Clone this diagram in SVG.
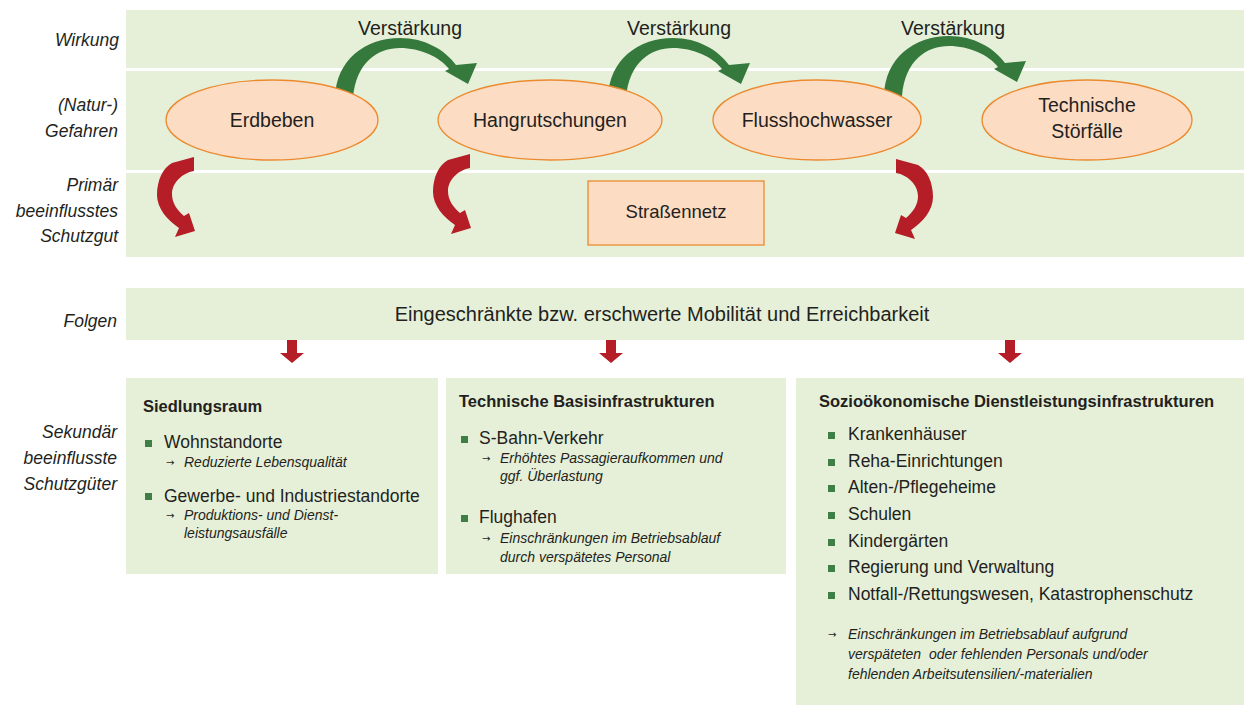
<svg xmlns="http://www.w3.org/2000/svg" width="1244" height="705" viewBox="0 0 1244 705">
<style>
text{font-family:"Liberation Sans",Arial,sans-serif;fill:#231f20}
.band{fill:#e6f0d8}
.lbl{font-size:17.5px;font-style:italic;text-anchor:end}
.ell{fill:#fddcc4;stroke:#ec8a2f;stroke-width:1.3}
.big{font-size:19.5px;text-anchor:middle}
.h{font-size:16.5px;font-weight:bold}
.b{font-size:17.5px}
.s{font-size:14px;font-style:italic}
.ar{font-family:"DejaVu Sans",sans-serif;font-size:10px}
.sq{fill:#3d7f45}
.ga{fill:#357a3c}
.ra{fill:#b51d27}
</style>
<rect width="1244" height="705" fill="#ffffff"/>
<g id="bands">
<rect class="band" x="126" y="10" width="1118" height="58"/>
<rect class="band" x="126" y="71" width="1118" height="99"/>
<rect class="band" x="126" y="173" width="1118" height="84"/>
<rect class="band" x="126" y="288" width="1118" height="52"/>
</g>
<g id="labels">
<text class="lbl" x="119" y="46">Wirkung</text>
<text class="lbl" x="118" y="111">(Natur-)</text>
<text class="lbl" x="118" y="137">Gefahren</text>
<text class="lbl" x="118" y="191">Primär</text>
<text class="lbl" x="118" y="217">beeinflusstes</text>
<text class="lbl" x="118" y="242">Schutzgut</text>
<text class="lbl" x="117" y="327">Folgen</text>
<text class="lbl" x="117" y="438">Sekundär</text>
<text class="lbl" x="117" y="464">beeinflusste</text>
<text class="lbl" x="117" y="490">Schutzgüter</text>
</g>
<g id="connectors">
<defs>
<path id="garrow" d="M335,98 C336,60 365,38 400,38 C425,38 445,50 456,65 L477,63 L468,84 L445,71 L449,69 C440,57 420,48 400,48 C378,48 356,62 353,98 Z"/>
<path id="rarrow" d="M172,163 L194,157 L194,171 C182,173 172,183 172,194 C172,203 177,210 184,216 L189,213 L195,231 L175,237 L179,228 C167,220 157,208 157,195 C157,180 163,168 172,163 Z"/>
<path id="darrow" d="M-5,340 L5,340 L5,353 L12,353 L0,363 L-12,353 L-5,353 Z"/>
</defs>
<use href="#garrow" class="ga"/>
<use href="#garrow" class="ga" transform="translate(273,0)"/>
<use href="#garrow" class="ga" transform="translate(549,-2)"/>
<use href="#rarrow" class="ra"/>
<use href="#rarrow" class="ra" transform="translate(276,-3)"/>
<use href="#rarrow" class="ra" transform="translate(1090,2) scale(-1,1)"/>
<use href="#darrow" class="ra" transform="translate(292,0)"/>
<use href="#darrow" class="ra" transform="translate(611,0)"/>
<use href="#darrow" class="ra" transform="translate(1010,0)"/>
<text class="big" x="410" y="35">Verstärkung</text>
<text class="big" x="679" y="35">Verstärkung</text>
<text class="big" x="953" y="35">Verstärkung</text>
</g>
<g id="n-erdbeben">
<ellipse class="ell" cx="272" cy="120" rx="106" ry="40"/>
<text class="big" x="272" y="127">Erdbeben</text>
</g>
<g id="n-hangrutschungen">
<ellipse class="ell" cx="550" cy="120" rx="112" ry="40"/>
<text class="big" x="550" y="127">Hangrutschungen</text>
</g>
<g id="n-flusshochwasser">
<ellipse class="ell" cx="817" cy="120" rx="104" ry="40"/>
<text class="big" x="817" y="127">Flusshochwasser</text>
</g>
<g id="n-stoerfaelle">
<ellipse class="ell" cx="1087" cy="120" rx="105" ry="40"/>
<text class="big" x="1087" y="112">Technische</text>
<text class="big" x="1087" y="138">Störfälle</text>
</g>
<g id="n-strassennetz">
<rect x="588" y="181" width="176" height="64" fill="#fddcc4" stroke="#ec8a2f" stroke-width="1.3"/>
<text class="big" x="676" y="218" style="font-size:18.5px">Straßennetz</text>
</g>
<g id="n-folgen">
<text class="big" x="662" y="321" style="font-size:20px">Eingeschränkte bzw. erschwerte Mobilität und Erreichbarkeit</text>
</g>
<g id="n-siedlungsraum">
<rect class="band" x="126" y="378" width="312" height="196"/>
<text class="h" x="143" y="412">Siedlungsraum</text>
<rect class="sq" x="145" y="440" width="7" height="7"/>
<text class="b" x="164" y="448">Wohnstandorte</text>
<text class="ar" x="166" y="466">→</text>
<text class="s" x="184" y="467">Reduzierte Lebensqualität</text>
<rect class="sq" x="145" y="493" width="7" height="7"/>
<text class="b" x="164" y="502">Gewerbe- und Industriestandorte</text>
<text class="ar" x="166" y="519">→</text>
<text class="s" x="184" y="520">Produktions- und Dienst-</text>
<text class="s" x="184" y="538">leistungsausfälle</text>
</g>
<g id="n-technische">
<rect class="band" x="446" y="378" width="340" height="196"/>
<text class="h" x="459" y="407">Technische Basisinfrastrukturen</text>
<rect class="sq" x="461" y="436" width="7" height="7"/>
<text class="b" x="479" y="444">S-Bahn-Verkehr</text>
<text class="ar" x="482" y="462">→</text>
<text class="s" x="500" y="463">Erhöhtes Passagieraufkommen und</text>
<text class="s" x="500" y="481">ggf. Überlastung</text>
<rect class="sq" x="461" y="515" width="7" height="7"/>
<text class="b" x="479" y="523">Flughafen</text>
<text class="ar" x="482" y="542">→</text>
<text class="s" x="500" y="543">Einschränkungen im Betriebsablauf</text>
<text class="s" x="500" y="562">durch verspätetes Personal</text>
</g>
<g id="n-soziooekonomisch">
<rect class="band" x="796" y="378" width="448" height="327"/>
<text class="h" x="819" y="407">Sozioökonomische Dienstleistungsinfrastrukturen</text>
<rect class="sq" x="828" y="432" width="7" height="7"/>
<text class="b" x="848" y="440">Krankenhäuser</text>
<rect class="sq" x="828" y="459" width="7" height="7"/>
<text class="b" x="848" y="467">Reha-Einrichtungen</text>
<rect class="sq" x="828" y="485" width="7" height="7"/>
<text class="b" x="848" y="493">Alten-/Pflegeheime</text>
<rect class="sq" x="828" y="512" width="7" height="7"/>
<text class="b" x="848" y="520">Schulen</text>
<rect class="sq" x="828" y="539" width="7" height="7"/>
<text class="b" x="848" y="547">Kindergärten</text>
<rect class="sq" x="828" y="565" width="7" height="7"/>
<text class="b" x="848" y="573">Regierung und Verwaltung</text>
<rect class="sq" x="828" y="592" width="7" height="7"/>
<text class="b" x="848" y="600">Notfall-/Rettungswesen, Katastrophenschutz</text>
<text class="ar" x="828" y="638">→</text>
<text class="s" x="848" y="639">Einschränkungen im Betriebsablauf aufgrund</text>
<text class="s" x="848" y="659" xml:space="preserve">verspäteten  oder fehlenden Personals und/oder</text>
<text class="s" x="848" y="679">fehlenden Arbeitsutensilien/-materialien</text>
</g>
</svg>
